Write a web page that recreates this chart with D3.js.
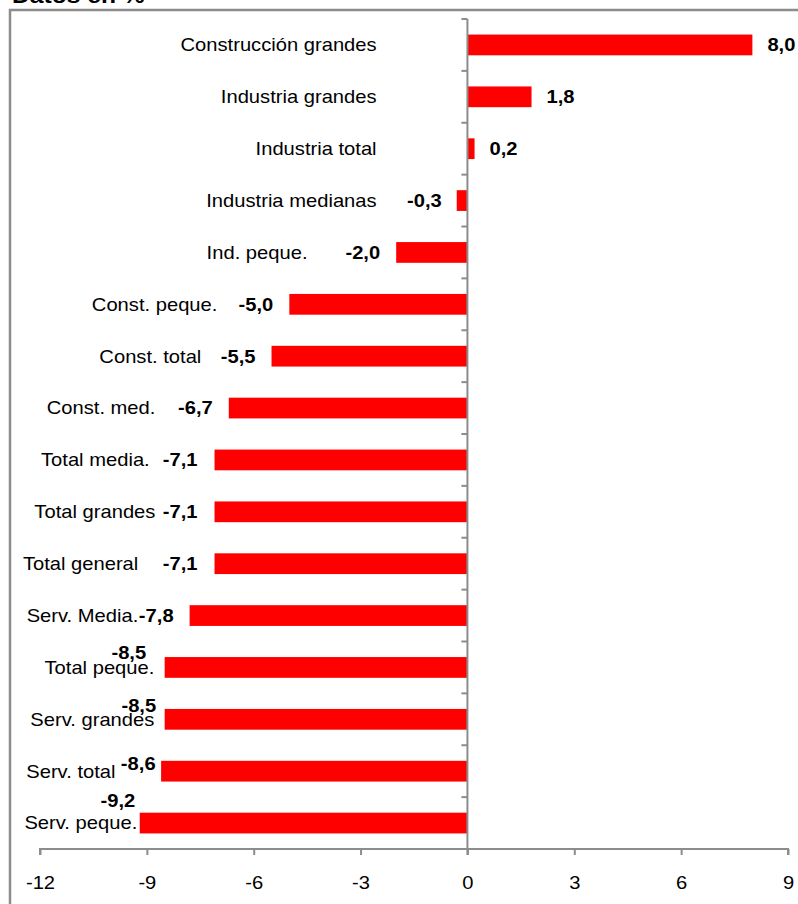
<!DOCTYPE html>
<html>
<head>
<meta charset="utf-8">
<script src="https://cdn.jsdelivr.net/npm/d3@7"></script>
<style>
  html, body { margin: 0; padding: 0; background: #fff; }
  svg { display: block; }
  text { font-family: "Liberation Sans", Arial, sans-serif; fill: #000; }
</style>
</head>
<body>
<div id="chart"></div>
<script>
// ---- data ----
const categories = [
  "Construcción grandes", "Industria grandes", "Industria total", "Industria medianas",
  "Ind. peque.", "Const. peque.", "Const. total", "Const. med.",
  "Total media.", "Total grandes", "Total general", "Serv. Media.",
  "Total peque.", "Serv. grandes", "Serv. total", "Serv. peque."
];
const values = [8.0, 1.8, 0.2, -0.3, -2.0, -5.0, -5.5, -6.7, -7.1, -7.1, -7.1, -7.8, -8.5, -8.5, -8.6, -9.2];
const tickValues = [-12, -9, -6, -3, 0, 3, 6, 9];
const titleText = "Datos en %";

// ---- layout (label placement, in value units / pixels) ----
const catLabelAt = [-2.55, -2.55, -2.55, -2.55, -4.49, -7.02, -7.47, -8.76, -8.92, -8.76, -9.24, -9.24, -8.79, -8.79, -9.88, -9.27];
const valLabelGap = [15, 15, 15, 15, 16, 16, 16, 16, 17, 17, 17, 16, 18.5, 8.5, 5.5, 4.5];
const valLabelDy  = [0, 0, 0, 0, 0, 0, 0, 0, 0, 0, 0, 0, -15, -14, -8, -22];

const W = 798, H = 904;
const SX = 1.12; // horizontal text stretch
const fmt = v => d3.format(".1f")(v).replace(".", ",").replace("−", "-");

const svg = d3.select("#chart").append("svg").attr("width", W).attr("height", H);

const x = d3.scaleLinear().domain([-12, 9]).range([40, 788]);
const y = d3.scaleBand().domain(categories).range([19, 849]).paddingInner(0.6).paddingOuter(0.3);
const step = y.step();

// frame
svg.append("rect").attr("x", 10).attr("y", 10).attr("width", 820).attr("height", 920)
  .attr("fill", "none").attr("stroke", "#8c8c8c").attr("stroke-width", 2.5);

// title (partially cut at top)
svg.append("text").attr("transform", `translate(12,3) scale(${SX},1)`)
  .attr("font-size", 22).attr("font-weight", "bold").text(titleText);

const axisColor = "#8c8c8c";

// bars
svg.append("g").selectAll("rect").data(categories).join("rect")
  .attr("x", (d, i) => Math.min(x(0), x(values[i])))
  .attr("y", d => y(d))
  .attr("width", (d, i) => Math.abs(x(values[i]) - x(0)))
  .attr("height", y.bandwidth())
  .attr("fill", "#ff0000");

// x axis
const xAxis = svg.append("g").attr("transform", `translate(0,${y.range()[1]})`)
  .call(d3.axisBottom(x).tickValues(tickValues).tickSize(6).tickFormat(d => d < 0 ? "-" + Math.abs(d) : String(d)));
xAxis.select(".domain").attr("stroke", axisColor).attr("stroke-width", 2).attr("d", `M${x(-12)},6V0H${x(9)}V6`);
xAxis.selectAll(".tick line").attr("stroke", axisColor).attr("stroke-width", 2);
xAxis.selectAll(".tick text").attr("font-size", 18).attr("font-family", "\"Liberation Sans\", Arial, sans-serif")
  .attr("fill", "#000").attr("y", 0).attr("dy", null)
  .attr("transform", `translate(0,40) scale(${SX},1)`);

// zero (category) axis
const yg = svg.append("g");
yg.append("line").attr("x1", x(0)).attr("x2", x(0)).attr("y1", y.range()[0]).attr("y2", y.range()[1] + 6)
  .attr("stroke", axisColor).attr("stroke-width", 2);
const boundaries = d3.range(categories.length + 1);
yg.selectAll("line.tk").data(boundaries).join("line").attr("class", "tk")
  .attr("x1", x(0) - 6).attr("x2", x(0))
  .attr("y1", i => y.range()[0] + i * step).attr("y2", i => y.range()[0] + i * step)
  .attr("stroke", axisColor).attr("stroke-width", 2);

// category labels
svg.append("g").selectAll("text").data(categories).join("text")
  .attr("transform", (d, i) => `translate(${x(catLabelAt[i])},${y(d) + y.bandwidth() / 2}) scale(${SX},1)`)
  .attr("text-anchor", "end").attr("dy", "0.35em").attr("font-size", 18)
  .text(d => d);

// value labels
svg.append("g").selectAll("text").data(categories).join("text")
  .attr("transform", (d, i) => {
    const v = values[i];
    const px = v >= 0 ? x(v) + valLabelGap[i] : x(v) - valLabelGap[i];
    return `translate(${px},${y(d) + y.bandwidth() / 2 + valLabelDy[i]}) scale(${SX},1)`;
  })
  .attr("text-anchor", (d, i) => values[i] >= 0 ? "start" : "end")
  .attr("dy", "0.35em").attr("font-size", 18).attr("font-weight", "bold")
  .text((d, i) => fmt(values[i]));
</script>
</body>
</html>
